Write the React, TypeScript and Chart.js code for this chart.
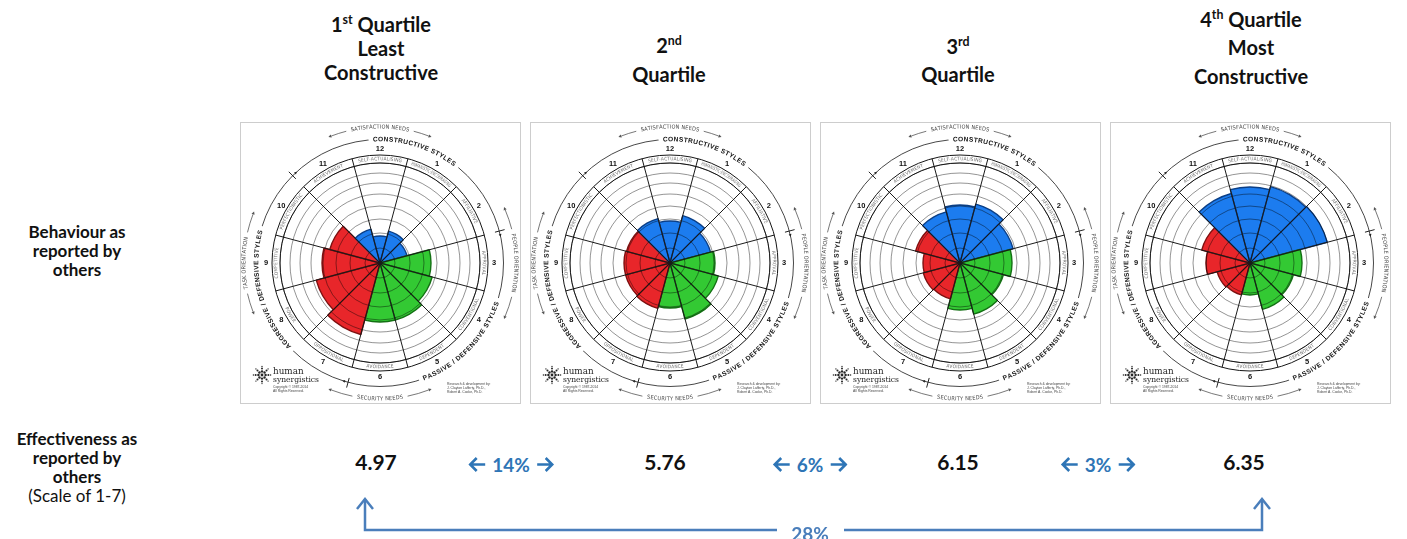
import React, { useEffect, useRef } from 'react';
import { Chart, registerables } from 'chart.js';
Chart.register(...registerables);

// ---------------- data ----------------
const styleNumbers = ['12', '1', '2', '3', '4', '5', '6', '7', '8', '9', '10', '11'];
const styleNames = [
  'SELF-ACTUALISING', 'HUMANISTIC-ENCOURAGING', 'AFFILIATIVE', 'APPROVAL', 'CONVENTIONAL', 'DEPENDENT',
  'AVOIDANCE', 'OPPOSITIONAL', 'POWER', 'COMPETITIVE', 'PERFECTIONISTIC', 'ACHIEVEMENT',
];
const styleCluster = ['C', 'C', 'C', 'P', 'P', 'P', 'P', 'A', 'A', 'A', 'A', 'C'];

const q1Scores = [27, 33, 28, 51, 54, 59, 59, 74, 66, 58, 52, 35];
const q2Scores = [42, 49, 42, 45, 50, 58, 45, 47, 46, 46, 45, 46];
const q3Scores = [58, 61, 55, 52, 45, 53, 47, 37, 38, 37, 46, 53];
const q4Scores = [76, 79, 80, 52, 45, 48, 32, 33, 34, 44, 50, 72];

// percentile rings of the circumplex
const ringLevels = [0, 15, 30, 44, 57, 69, 80, 90, 100];

const quartileTitles = [
  ['1|st| Quartile', 'Least', 'Constructive'],
  ['2|nd|', 'Quartile'],
  ['3|rd|', 'Quartile'],
  ['4|th| Quartile', 'Most', 'Constructive'],
];
const effectivenessScores = ['4.97', '5.76', '6.15', '6.35'];
const stepChanges = ['14%', '6%', '3%'];
const totalChange = '28%';
const behaviourLabel = ['Behaviour as', 'reported by', 'others'];
const effectivenessLabel = ['Effectiveness as', 'reported by', 'others'];
const scaleNote = '(Scale of 1-7)';
const sectorTitles = ['CONSTRUCTIVE STYLES', 'PASSIVE / DEFENSIVE STYLES', 'AGGRESSIVE / DEFENSIVE STYLES'];
const orientationLabels = ['SATISFACTION NEEDS', 'PEOPLE ORIENTATION', 'SECURITY NEEDS', 'TASK ORIENTATION'];
const logoWords = ['human', 'synergistics'];
const copyrightLines = ['Copyright © 1987-2014', 'All Rights Reserved.'];
const researchLines = ['Research & development by:', 'J. Clayton Lafferty, Ph.D.,', 'Robert A. Cooke, Ph.D.'];

// ---------------- styling ----------------
const clusterFill: Record<string, string> = { C: '#1c7cef', P: '#33c933', A: '#e8262a' };
const clusterBorder: Record<string, string> = { C: '#0b3f86', P: '#137013', A: '#7d1010' };
const DEG = Math.PI / 180;
const NARROW = '"Liberation Sans Narrow", "DejaVu Sans Condensed", "Liberation Sans", sans-serif';
const SANS = '"Liberation Sans", Arial, sans-serif';

function arcSpan(ctx: any, text: string, r: number, spacing: number, maxDeg = 0) {
  const chars = Array.from(text);
  const w = chars.map((c) => ctx.measureText(c).width);
  const total = w.reduce((a, b) => a + b, 0) + spacing * (chars.length - 1);
  let sx = 1;
  if (maxDeg > 0) {
    const maxLen = maxDeg * DEG * r;
    if (total > maxLen) sx = maxLen / total;
  }
  return { chars, w, sx, span: (total * sx) / r };
}

function arcText(ctx: any, text: string, cx: number, cy: number, r: number, centerDeg: number, outward: boolean,
  font: string, color: string, spacing = 0, maxDeg = 0) {
  ctx.save();
  ctx.font = font;
  ctx.fillStyle = color;
  ctx.textAlign = 'center';
  ctx.textBaseline = 'middle';
  const { chars, w, sx, span } = arcSpan(ctx, text, r, spacing, maxDeg);
  const c = centerDeg * DEG;
  let off = 0;
  for (let i = 0; i < chars.length; i++) {
    const mid = (off + w[i] / 2) * sx;
    const a = outward ? c - span / 2 + mid / r : c + span / 2 - mid / r;
    ctx.save();
    ctx.translate(cx + r * Math.cos(a), cy + r * Math.sin(a));
    ctx.rotate(outward ? a + Math.PI / 2 : a - Math.PI / 2);
    ctx.scale(sx, 1);
    ctx.fillText(chars[i], 0, 0);
    ctx.restore();
    off += w[i] + spacing;
  }
  ctx.restore();
  return span;
}

function arrowHead(ctx: any, cx: number, cy: number, r: number, a: number, dir: number, size: number) {
  const px = cx + r * Math.cos(a);
  const py = cy + r * Math.sin(a);
  const tx = -Math.sin(a) * dir;
  const ty = Math.cos(a) * dir;
  const nx = Math.cos(a);
  const ny = Math.sin(a);
  ctx.beginPath();
  ctx.moveTo(px + tx * size, py + ty * size);
  ctx.lineTo(px + nx * size * 0.55, py + ny * size * 0.55);
  ctx.lineTo(px - nx * size * 0.55, py - ny * size * 0.55);
  ctx.closePath();
  ctx.fill();
}

const decorPlugin = {
  id: 'circumplexDecor',
  afterDraw(chart: any) {
    const ctx = chart.ctx;
    const s = chart.scales.r;
    const cx = s.xCenter;
    const cy = s.yCenter;
    const k = s.drawingArea / 100;
    const W = chart.width;
    const H = chart.height;
    ctx.save();

    // frame
    ctx.strokeStyle = '#cdcdcd';
    ctx.lineWidth = 1;
    ctx.strokeRect(0.5, 0.5, W - 1, H - 1);

    // style label ring
    ctx.strokeStyle = '#151515';
    ctx.lineWidth = 1;
    [100, 108].forEach((r) => {
      ctx.beginPath();
      ctx.arc(cx, cy, r * k, 0, Math.PI * 2);
      ctx.stroke();
    });
    for (let i = 0; i < 12; i++) {
      const a = (-105 + 30 * i) * DEG;
      ctx.beginPath();
      ctx.moveTo(cx + 99 * k * Math.cos(a), cy + 99 * k * Math.sin(a));
      ctx.lineTo(cx + 108 * k * Math.cos(a), cy + 108 * k * Math.sin(a));
      ctx.stroke();
    }
    styleNames.forEach((name, i) => {
      const deg = -90 + 30 * i;
      const bottom = i >= 4 && i <= 8;
      arcText(ctx, name, cx, cy, 104 * k, deg, !bottom, `${4.8 * k}px ${NARROW}`, '#6d6d6d', 0.2, 25);
    });

    // style numbers
    ctx.fillStyle = '#111';
    ctx.font = `bold ${7.5 * k}px ${SANS}`;
    ctx.textAlign = 'center';
    ctx.textBaseline = 'middle';
    styleNumbers.forEach((n, i) => {
      const a = (-90 + 30 * i) * DEG;
      ctx.fillText(n, cx + 114 * k * Math.cos(a), cy + 114 * k * Math.sin(a));
    });

    // sector circle with titles
    const rs = 123.5 * k;
    ctx.strokeStyle = '#333';
    ctx.lineWidth = 0.9;
    ctx.beginPath();
    ctx.arc(cx, cy, rs, 0, Math.PI * 2);
    ctx.stroke();
    const titleSpec: [string, number, boolean][] = [
      [sectorTitles[0], -73, true],
      [sectorTitles[1], 44, false],
      [sectorTitles[2], 166, true],
    ];
    const titleFont = `bold ${6.6 * k}px ${SANS}`;
    titleSpec.forEach(([t, deg, out]) => {
      ctx.font = titleFont;
      const { span } = arcSpan(ctx, t, rs, 0.45 * k);
      ctx.strokeStyle = '#ffffff';
      ctx.lineWidth = 9 * k;
      ctx.beginPath();
      ctx.arc(cx, cy, rs, deg * DEG - span / 2 - 2 * DEG, deg * DEG + span / 2 + 2 * DEG);
      ctx.stroke();
      arcText(ctx, t, cx, cy, rs, deg, out, titleFont, '#111', 0.45 * k);
    });
    // cluster boundary marks
    ctx.strokeStyle = '#222';
    ctx.fillStyle = '#222';
    ctx.lineWidth = 1;
    [-135, -15, 105].forEach((deg) => {
      const a = deg * DEG;
      ctx.beginPath();
      ctx.moveTo(cx + 119 * k * Math.cos(a), cy + 119 * k * Math.sin(a));
      ctx.lineTo(cx + 129 * k * Math.cos(a), cy + 129 * k * Math.sin(a));
      ctx.stroke();
      arrowHead(ctx, cx, cy, rs, a + 1.5 * DEG, 1, 2.6 * k);
    });

    // orientation arrows
    const ro = 136 * k;
    const oriSpec: [string, number, boolean, number][] = [
      [orientationLabels[0], -90, true, 21],
      [orientationLabels[1], 0, true, 23],
      [orientationLabels[2], 90, false, 21],
      [orientationLabels[3], 180, true, 21],
    ];
    const oriFont = `${5.6 * k}px ${NARROW}`;
    oriSpec.forEach(([t, deg, out, half]) => {
      ctx.font = oriFont;
      const { span } = arcSpan(ctx, t, ro, 0.2 * k);
      const c = deg * DEG;
      ctx.strokeStyle = '#555';
      ctx.fillStyle = '#555';
      ctx.lineWidth = 0.8;
      ctx.beginPath();
      ctx.arc(cx, cy, ro, c - half * DEG, c - span / 2 - 2 * DEG);
      ctx.stroke();
      ctx.beginPath();
      ctx.arc(cx, cy, ro, c + span / 2 + 2 * DEG, c + half * DEG);
      ctx.stroke();
      arrowHead(ctx, cx, cy, ro, c - half * DEG, -1, 3 * k);
      arrowHead(ctx, cx, cy, ro, c + half * DEG, 1, 3 * k);
      arcText(ctx, t, cx, cy, ro, deg, out, oriFont, '#444', 0.2 * k);
    });

    // logo
    const lx = cx - 118 * k;
    const ly = cy + 112 * k;
    ctx.fillStyle = '#262626';
    ctx.beginPath();
    ctx.arc(lx, ly, 1.4 * k, 0, Math.PI * 2);
    ctx.fill();
    for (let j = 0; j < 8; j++) {
      const a = j * 45 * DEG;
      [[3.6, 1.2], [6.4, 1.0], [8.6, 0.7]].forEach(([d, rr]) => {
        ctx.beginPath();
        ctx.arc(lx + d * k * Math.cos(a), ly + d * k * Math.sin(a), rr * k, 0, Math.PI * 2);
        ctx.fill();
      });
    }
    ctx.textAlign = 'left';
    ctx.textBaseline = 'alphabetic';
    ctx.font = `${8.8 * k}px "DejaVu Serif", "Liberation Serif", serif`;
    ctx.fillText(logoWords[0], lx + 11 * k, ly - 1 * k);
    ctx.font = `${7.6 * k}px "DejaVu Serif", "Liberation Serif", serif`;
    ctx.fillText(logoWords[1], lx + 11 * k, ly + 6.5 * k);
    ctx.font = `${3.4 * k}px ${SANS}`;
    ctx.fillStyle = '#444';
    copyrightLines.forEach((l, i) => ctx.fillText(l, lx + 11 * k, ly + (13 + i * 4) * k));
    researchLines.forEach((l, i) => ctx.fillText(l, cx + 67 * k, cy + (122 + i * 4) * k));

    ctx.restore();
  },
};

function Circumplex({ scores, left, top }: { scores: number[]; left: number; top: number }) {
  const ref = useRef<HTMLCanvasElement | null>(null);
  useEffect(() => {
    if (!ref.current) return;
    const chart = new Chart(ref.current, {
      type: 'polarArea',
      data: {
        labels: styleNumbers,
        datasets: [
          {
            data: scores,
            backgroundColor: styleCluster.map((c) => clusterFill[c]),
            borderColor: styleCluster.map((c) => clusterBorder[c]),
            borderWidth: 1.4,
          },
        ],
      },
      options: {
        responsive: false,
        animation: false,
        events: [],
        layout: { padding: { left: 40, right: 41, top: 41, bottom: 41 } },
        plugins: { legend: { display: false }, tooltip: { enabled: false } },
        scales: {
          r: {
            min: 0,
            max: 100,
            startAngle: -15,
            afterBuildTicks: (scale: any) => {
              scale.ticks = ringLevels.map((v) => ({ value: v }));
            },
            ticks: { display: false, z: 1 },
            grid: { color: 'rgba(0,0,0,0.42)', lineWidth: 1, z: 1, circular: true },
            angleLines: { display: true, color: '#1a1a1a', lineWidth: 1 },
            pointLabels: { display: false },
          },
        },
      } as any,
      plugins: [decorPlugin as any],
    });
    return () => chart.destroy();
  }, [scores]);
  return (
    <canvas
      ref={ref}
      width={281}
      height={282}
      style={{ position: 'absolute', left, top, width: 281, height: 282, display: 'block' }}
    />
  );
}

const FONT = 'Lato, "Open Sans", "Liberation Sans", sans-serif';

function Centered({ x, y, size, bold = true, color = '#111', children }: any) {
  return (
    <div
      style={{
        position: 'absolute',
        left: x,
        top: y,
        transform: 'translate(-50%, -50%)',
        whiteSpace: 'nowrap',
        fontFamily: FONT,
        fontSize: size,
        fontWeight: bold ? 700 : 400,
        color,
        lineHeight: 1,
        display: 'flex',
        alignItems: 'center',
      }}
    >
      {children}
    </div>
  );
}

function TitleLine({ text }: { text: string }) {
  const parts = text.split('|');
  if (parts.length === 1) return <>{text}</>;
  return (
    <span>
      {parts[0]}
      <span style={{ fontSize: '0.62em', position: 'relative', top: '-0.62em' }}>{parts[1]}</span>
      {parts[2]}
    </span>
  );
}

function SideArrow({ dir, color }: { dir: number; color: string }) {
  // dir -1 = pointing left, 1 = pointing right
  const d = dir < 0 ? 'M2,8 L17,8 M8.5,1.5 L2,8 L8.5,14.5' : 'M1,8 L16,8 M9.5,1.5 L16,8 L9.5,14.5';
  return (
    <svg width={18} height={16} style={{ display: 'block' }}>
      <path d={d} fill="none" stroke={color} strokeWidth={2.6} strokeLinecap="butt" strokeLinejoin="miter" />
    </svg>
  );
}

export default function App() {
  const allScores = [q1Scores, q2Scores, q3Scores, q4Scores];
  const panelLeft = [240, 530, 820, 1110];
  const titleX = [381, 669, 958, 1251];
  const titleY = [[24, 48, 72], [45, 74], [46, 74], [19, 47, 76]];
  const valueX = [376, 665, 958, 1244];
  const stepX = [511, 810, 1098];
  const bracket = '#4a7ebb';
  const stepColor = '#2e75b6';
  return (
    <div style={{ position: 'absolute', left: 0, top: 0, width: 1407, height: 539, background: '#fff', overflow: 'hidden' }}>
      {allScores.map((sc, i) => (
        <Circumplex key={i} scores={sc} left={panelLeft[i]} top={122} />
      ))}
      {quartileTitles.map((lines, i) =>
        lines.map((l, j) => (
          <Centered key={`t${i}${j}`} x={titleX[i]} y={titleY[i][j]} size={20}>
            <TitleLine text={l} />
          </Centered>
        )),
      )}
      {behaviourLabel.map((l, j) => (
        <Centered key={`b${j}`} x={77} y={231 + j * 19} size={17}>
          {l}
        </Centered>
      ))}
      {effectivenessLabel.map((l, j) => (
        <Centered key={`e${j}`} x={77} y={438 + j * 19} size={17}>
          {l}
        </Centered>
      ))}
      <Centered x={77} y={495} size={17} bold={false}>
        {scaleNote}
      </Centered>
      {effectivenessScores.map((v, i) => (
        <Centered key={`v${i}`} x={valueX[i]} y={461} size={21}>
          {v}
        </Centered>
      ))}
      {stepChanges.map((v, i) => (
        <Centered key={`s${i}`} x={stepX[i]} y={464} size={19} color={stepColor}>
          <SideArrow dir={-1} color={stepColor} />
          <span style={{ margin: '0 6px' }}>{v}</span>
          <SideArrow dir={1} color={stepColor} />
        </Centered>
      ))}
      <svg width={1407} height={539} style={{ position: 'absolute', left: 0, top: 0 }}>
        <g fill="none" stroke={bracket} strokeWidth={2.5} strokeLinejoin="miter">
          <path d="M365,499 L365,530 L777,530" />
          <path d="M844,530 L1262,530 L1262,499" />
          <path d="M357,509 L365,499 L373,509" />
          <path d="M1254,509 L1262,499 L1270,509" />
        </g>
      </svg>
      <Centered x={810} y={533} size={19} color={bracket}>
        {totalChange}
      </Centered>
    </div>
  );
}
